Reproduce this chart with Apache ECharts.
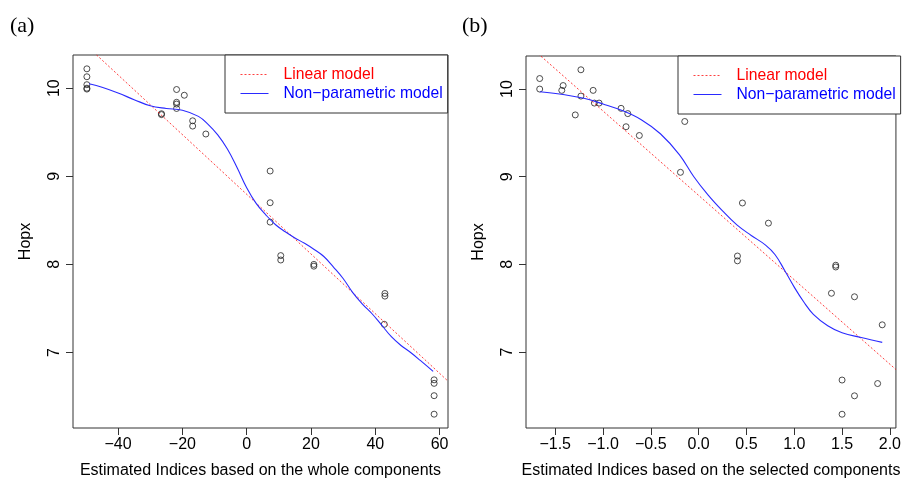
<!DOCTYPE html>
<html>
<head>
<meta charset="utf-8">
<script src="https://cdn.jsdelivr.net/npm/echarts@6/dist/echarts.min.js"></script>
<style>
  html, body { margin: 0; padding: 0; background: #fff; }
  #chart { width: 904px; height: 484px; }
</style>
</head>
<body>
<div id="chart"></div>
<script>
// Panel (a): index built from the whole components
const wholeIndex = [-49.7, -49.7, -49.7, -49.7, -49.7, -26.5, -26.5, -21.8, -21.8, -21.8, -21.8, -19.4,
  -16.8, -16.8, -12.7, 7.3, 7.3, 7.3, 10.6, 10.6, 20.9, 20.9, 43.0, 43.0, 42.8, 58.3, 58.3, 58.3, 58.3];
const wholeHopx = [10.22, 10.13, 10.04, 10.00, 9.99, 9.71, 9.70, 9.985, 9.84, 9.82, 9.77, 9.92,
  9.63, 9.57, 9.48, 9.06, 8.70, 8.48, 8.10, 8.05, 8.00, 7.98, 7.67, 7.64, 7.32, 6.69, 6.65, 6.51, 6.30];
const wholeLinear = { intercept: 8.796, slope: -0.03387 };
const wholeSmoothX = [-49, -45, -40, -35, -30, -25, -20, -15, -12, -9, -6, -3, 0, 3, 6, 9, 12, 15,
  18, 21, 24, 27, 30, 33, 36, 39, 42, 45, 48, 51, 54, 58];
const wholeSmoothY = [10.05, 10.01, 9.945, 9.87, 9.80, 9.77, 9.75, 9.68, 9.59, 9.47, 9.31, 9.10, 8.87,
  8.69, 8.56, 8.45, 8.37, 8.30, 8.24, 8.17, 8.09, 7.97, 7.84, 7.68, 7.55, 7.44, 7.31, 7.18, 7.08,
  7.00, 6.91, 6.785];
const wholeTicks = [-40, -20, 0, 20, 40, 60];

// Panel (b): index built from the selected components
const selIndex = [-1.662, -1.662, -1.431, -1.417, -1.290, -1.231, -1.231, -1.103, -1.090, -1.041,
  -0.811, -0.741, -0.759, -0.620, -0.190, -0.145, 0.458, 0.730, 0.406, 0.406, 1.434, 1.434, 1.389,
  1.630, 1.920, 1.500, 1.872, 1.630, 1.500];
const selHopx = [10.12, 10.00, 9.985, 10.04, 9.705, 10.22, 9.92, 9.985, 9.84, 9.84,
  9.78, 9.72, 9.57, 9.47, 9.05, 9.63, 8.70, 8.47, 8.095, 8.04, 7.99, 7.97, 7.67,
  7.63, 7.31, 6.68, 6.64, 6.50, 6.29];
const selLinear = { intercept: 8.787, slope: -0.963 };
const selSmoothX = [-1.66, -1.4, -1.2, -1.0, -0.8, -0.6, -0.4, -0.2, -0.05, 0.1, 0.25, 0.4, 0.55,
  0.7, 0.8, 0.9, 1.0, 1.1, 1.2, 1.35, 1.5, 1.7, 1.92];
const selSmoothY = [9.97, 9.935, 9.895, 9.83, 9.755, 9.65, 9.49, 9.25, 9.0, 8.79, 8.61, 8.45, 8.33,
  8.22, 8.11, 7.93, 7.74, 7.57, 7.43, 7.30, 7.22, 7.165, 7.11];
const selTicks = [-1.5, -1.0, -0.5, 0.0, 0.5, 1.0, 1.5, 2.0];

const hopxTicks = [7, 8, 9, 10];

const LIN_NAME = 'Linear model';
const NP_NAME = 'Non\u2212parametric model';
const FONT = 'Liberation Sans, Arial, Helvetica, sans-serif';

// R-style axis range: data range widened by 4% on each side
function paddedRange(arr) {
  const lo = Math.min(...arr), hi = Math.max(...arr), d = (hi - lo) * 0.04;
  return [lo - d, hi + d];
}
const zip = (xs, ys) => xs.map((x, i) => [x, ys[i]]);
const minus = s => s.replace('-', '\u2212');

const wholeX = paddedRange(wholeIndex), wholeY = paddedRange(wholeHopx);
const selX = paddedRange(selIndex), selY = paddedRange(selHopx);

function xAxisFor(idx, range, ticks, fmt, name) {
  return {
    gridIndex: idx, type: 'value', min: range[0], max: range[1],
    name: name, nameLocation: 'middle', nameGap: 35,
    nameTextStyle: { fontFamily: FONT, fontSize: 16, color: '#000' },
    axisLine: { show: false, onZero: false },
    axisTick: { show: true, length: 7, customValues: ticks, lineStyle: { color: '#333' } },
    axisLabel: { customValues: ticks, formatter: fmt, margin: 9, fontFamily: FONT, fontSize: 16, color: '#000', showMinLabel: true, showMaxLabel: true },
    splitLine: { show: false }
  };
}
function yAxisFor(idx, range) {
  return {
    gridIndex: idx, type: 'value', min: range[0], max: range[1],
    name: 'Hopx', nameLocation: 'middle', nameGap: 39,
    nameTextStyle: { fontFamily: FONT, fontSize: 16, color: '#000' },
    axisLine: { show: false, onZero: false },
    axisTick: { show: true, length: 7, customValues: hopxTicks, lineStyle: { color: '#333' } },
    axisLabel: { customValues: hopxTicks, rotate: 90, margin: 10, fontFamily: FONT, fontSize: 16, color: '#000' },
    splitLine: { show: false }
  };
}
function legendFor(left, top) {
  return {
    left: left, top: top, orient: 'vertical',
    padding: [10, 5, 10, 15],
    itemWidth: 28, itemHeight: 14, itemGap: 0,
    borderColor: '#333', borderWidth: 1, backgroundColor: '#fff',
    selectedMode: false,
    itemStyle: { opacity: 0 },
    lineStyle: { width: 1 },
    textStyle: { fontFamily: FONT, fontSize: 15.7, lineHeight: 19, padding: [0, 0, 0, 10] },
    data: [
      { name: LIN_NAME, textStyle: { color: '#ff0000' } },
      { name: NP_NAME, textStyle: { color: '#0000ff' } }
    ]
  };
}
function panelSeries(idx, xs, ys, lin, range, sx, sy) {
  return [
    {
      type: 'scatter', xAxisIndex: idx, yAxisIndex: idx, data: zip(xs, ys),
      symbol: 'circle', symbolSize: 6,
      itemStyle: { color: 'rgba(0,0,0,0)', borderColor: '#222', borderWidth: 1 },
      z: 2
    },
    {
      type: 'line', name: LIN_NAME, xAxisIndex: idx, yAxisIndex: idx, clip: true,
      data: range.map(x => [x, lin.intercept + lin.slope * x]),
      symbol: 'none', showSymbol: false,
      itemStyle: { color: '#ff0000' },
      lineStyle: { color: 'rgba(255,0,0,0.75)', width: 1, type: [2, 2] },
      z: 3
    },
    {
      type: 'line', name: NP_NAME, xAxisIndex: idx, yAxisIndex: idx, clip: true,
      data: zip(sx, sy), smooth: 0.4,
      symbol: 'none', showSymbol: false,
      itemStyle: { color: '#2a2aff' },
      lineStyle: { color: '#2a2aff', width: 1.1 },
      z: 4
    }
  ];
}

const chart = echarts.init(document.getElementById('chart'), null, { renderer: 'canvas' });
chart.setOption({
  animation: false,
  backgroundColor: '#fff',
  title: [
    { text: '(a)', left: 5, top: 10, textStyle: { fontFamily: 'Liberation Serif, Times New Roman, serif', fontSize: 22, fontWeight: 'normal', color: '#000' } },
    { text: '(b)', left: 457, top: 10, textStyle: { fontFamily: 'Liberation Serif, Times New Roman, serif', fontSize: 22, fontWeight: 'normal', color: '#000' } }
  ],
  grid: [
    { left: 73, top: 55, width: 375, height: 374, show: true, borderColor: '#333', borderWidth: 1, backgroundColor: 'transparent' },
    { left: 526, top: 56, width: 373, height: 373, show: true, borderColor: '#333', borderWidth: 1, backgroundColor: 'transparent' }
  ],
  xAxis: [
    xAxisFor(0, wholeX, wholeTicks, v => minus(String(v)), 'Estimated Indices based on the whole components'),
    xAxisFor(1, selX, selTicks, v => minus(Number(v).toFixed(1)), 'Estimated Indices based on the selected components')
  ],
  yAxis: [yAxisFor(0, wholeY), yAxisFor(1, selY)],
  legend: [legendFor(225, 55), legendFor(678, 56)],
  series: [
    ...panelSeries(0, wholeIndex, wholeHopx, wholeLinear, wholeX, wholeSmoothX, wholeSmoothY),
    ...panelSeries(1, selIndex, selHopx, selLinear, selX, selSmoothX, selSmoothY)
  ]
});
</script>
</body>
</html>
